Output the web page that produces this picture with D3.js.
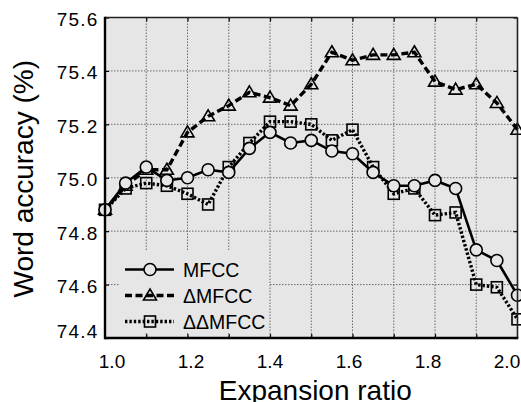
<!DOCTYPE html>
<html>
<head>
<meta charset="utf-8">
<script src="https://cdn.jsdelivr.net/npm/d3@7"></script>
<style>
  html, body { margin: 0; padding: 0; background: #fff; }
  svg { display: block; font-family: "Liberation Sans", Arial, sans-serif; }
</style>
</head>
<body>
<svg id="chart" width="521" height="402"></svg>
<script>
// expansion ratio on x, word accuracy (%) on y
const ratios = [1.0, 1.05, 1.1, 1.15, 1.2, 1.25, 1.3, 1.35, 1.4, 1.45, 1.5,
  1.55, 1.6, 1.65, 1.7, 1.75, 1.8, 1.85, 1.9, 1.95, 2.0];
const mfcc = [74.88, 74.98, 75.04, 74.99, 75.00, 75.03, 75.02, 75.11, 75.17, 75.13, 75.14,
  75.10, 75.09, 75.02, 74.97, 74.97, 74.99, 74.96, 74.73, 74.69, 74.56];
const dMfcc = [74.88, 74.97, 75.03, 75.03, 75.17, 75.23, 75.27, 75.32, 75.30, 75.27, 75.35,
  75.47, 75.44, 75.46, 75.46, 75.47, 75.36, 75.33, 75.35, 75.28, 75.18];
const ddMfcc = [74.88, 74.96, 74.98, 74.97, 74.94, 74.90, 75.04, 75.13, 75.21, 75.21, 75.20,
  75.14, 75.18, 75.04, 74.94, 74.96, 74.86, 74.87, 74.60, 74.59, 74.47];
const seriesNames = ['MFCC', '\u0394MFCC', '\u0394\u0394MFCC'];
const xTicks = [1.0, 1.2, 1.4, 1.6, 1.8, 2.0];
const xGrid = [1.1, 1.2, 1.3, 1.4, 1.5, 1.6, 1.7, 1.8, 1.9];
const yTicks = [74.4, 74.6, 74.8, 75.0, 75.2, 75.4, 75.6];

const LEFT = 105, RIGHT = 517.5, TOP = 17.5, BOTTOM = 338;
const BG = '#e6e6e6';

const svg = d3.select('#chart');

const x = d3.scaleLinear().domain([1.0, 2.0]).range([LEFT, RIGHT]);
const y = d3.scaleLinear().domain([74.4, 75.6]).range([BOTTOM, TOP]);
// tick labels in the source sit a little inside the tick positions
const xLabel = d3.scaleLinear().domain([1.0, 2.0]).range([112, 507]);

svg.append('rect')
  .attr('x', LEFT).attr('y', TOP)
  .attr('width', RIGHT - LEFT).attr('height', BOTTOM - TOP)
  .attr('fill', BG);

// grid
const grid = svg.append('g')
  .attr('stroke', '#6a6a6a')
  .attr('stroke-width', 1)
  .attr('stroke-dasharray', '1.5,1.5');
grid.selectAll('.vg').data(xGrid).enter().append('line')
  .attr('x1', d => x(d)).attr('x2', d => x(d))
  .attr('y1', TOP).attr('y2', BOTTOM);
grid.selectAll('.hg').data(yTicks.slice(1, -1)).enter().append('line')
  .attr('x1', LEFT).attr('x2', RIGHT)
  .attr('y1', d => y(d)).attr('y2', d => y(d));

// inward ticks via d3 axes
const tickStyle = g => {
  g.select('.domain').remove();
  g.selectAll('.tick line').attr('stroke', '#000').attr('stroke-width', 1.2);
  g.selectAll('.tick text').remove();
};
svg.append('g').attr('transform', `translate(0,${BOTTOM})`)
  .call(d3.axisTop(x).tickValues(xGrid).tickSize(4)).call(tickStyle);
svg.append('g').attr('transform', `translate(0,${TOP})`)
  .call(d3.axisBottom(x).tickValues(xGrid).tickSize(4)).call(tickStyle);
svg.append('g').attr('transform', `translate(${LEFT},0)`)
  .call(d3.axisRight(y).tickValues(yTicks).tickSize(4)).call(tickStyle);
svg.append('g').attr('transform', `translate(${RIGHT},0)`)
  .call(d3.axisLeft(y).tickValues(yTicks).tickSize(4)).call(tickStyle);

// series
const series = [
  { name: seriesNames[0], values: mfcc, dash: null, width: 2.6, marker: 'circle' },
  { name: seriesNames[1], values: dMfcc, dash: '7,3.5', width: 3.4, marker: 'triangle' },
  { name: seriesNames[2], values: ddMfcc, dash: '2.4,2', width: 3.4, marker: 'square' }
];

const line = d3.line()
  .x(d => x(d[0]))
  .y(d => y(d[1]));

function drawMarker(sel, type) {
  if (type === 'circle') {
    sel.append('circle').attr('r', 6)
      .attr('fill', BG).attr('stroke', '#000').attr('stroke-width', 1.6);
  } else if (type === 'triangle') {
    sel.append('path').attr('d', 'M0,-6.5L6.5,4.5L-6.5,4.5Z')
      .attr('fill', 'none').attr('stroke', '#000').attr('stroke-width', 1.6);
  } else {
    sel.append('rect').attr('x', -5.5).attr('y', -5.5).attr('width', 11).attr('height', 11)
      .attr('fill', 'none').attr('stroke', '#000').attr('stroke-width', 1.6);
  }
}

[2, 1, 0].forEach(i => {
  const s = series[i];
  const pts = ratios.map((r, j) => [r, s.values[j]]);
  svg.append('path')
    .datum(pts)
    .attr('d', line)
    .attr('fill', 'none')
    .attr('stroke', '#000')
    .attr('stroke-width', s.width)
    .attr('stroke-dasharray', s.dash);
  svg.append('g').selectAll('g').data(pts).enter().append('g')
    .attr('transform', d => `translate(${x(d[0])},${y(d[1])})`)
    .each(function () { drawMarker(d3.select(this), s.marker); });
});

// legend
const legend = svg.append('g');
legend.append('rect')
  .attr('x', 120).attr('y', 251).attr('width', 149).attr('height', 82)
  .attr('fill', BG);
series.forEach((s, i) => {
  const row = legend.append('g').attr('transform', `translate(0,${269.5 + i * 26})`);
  row.append('line')
    .attr('x1', 125).attr('x2', 174)
    .attr('stroke', '#000')
    .attr('stroke-width', s.width)
    .attr('stroke-dasharray', s.dash);
  drawMarker(row.append('g').attr('transform', 'translate(150,0)'), s.marker);
  row.append('text')
    .attr('x', 183).attr('dy', '0.36em')
    .attr('font-size', 19.5)
    .text(s.name);
});

// frame
svg.append('line').attr('x1', LEFT).attr('x2', RIGHT).attr('y1', TOP).attr('y2', TOP)
  .attr('stroke', '#222').attr('stroke-width', 1.6);
svg.append('line').attr('x1', RIGHT).attr('x2', RIGHT).attr('y1', TOP).attr('y2', BOTTOM)
  .attr('stroke', '#222').attr('stroke-width', 1.6);
svg.append('line').attr('x1', LEFT).attr('x2', LEFT).attr('y1', TOP - 0.8).attr('y2', BOTTOM + 1.2)
  .attr('stroke', '#000').attr('stroke-width', 2.4);
svg.append('line').attr('x1', LEFT).attr('x2', RIGHT + 0.8).attr('y1', BOTTOM).attr('y2', BOTTOM)
  .attr('stroke', '#000').attr('stroke-width', 2.6);

// tick labels
svg.append('g').selectAll('text').data(xTicks).enter().append('text')
  .attr('x', d => xLabel(d))
  .attr('y', 368)
  .attr('text-anchor', 'middle')
  .attr('font-size', 19)
  .text(d3.format('.1f'));
svg.append('g').selectAll('text').data(yTicks).enter().append('text')
  .attr('x', 98.5)
  .attr('y', d => y(d) + (d === 74.4 ? -7 : 1.5))
  .attr('dy', '0.36em')
  .attr('text-anchor', 'end')
  .attr('font-size', 19)
  .attr('letter-spacing', 1.2)
  .text(d3.format('.1f'));

// axis titles
svg.append('text')
  .attr('x', (LEFT + RIGHT) / 2 + 4)
  .attr('y', 400)
  .attr('text-anchor', 'middle')
  .attr('font-size', 28)
  .text('Expansion ratio');
svg.append('text')
  .attr('transform', `translate(33,${(TOP + BOTTOM) / 2 + 1}) rotate(-90)`)
  .attr('text-anchor', 'middle')
  .attr('font-size', 28)
  .text('Word accuracy (%)');
</script>
</body>
</html>
